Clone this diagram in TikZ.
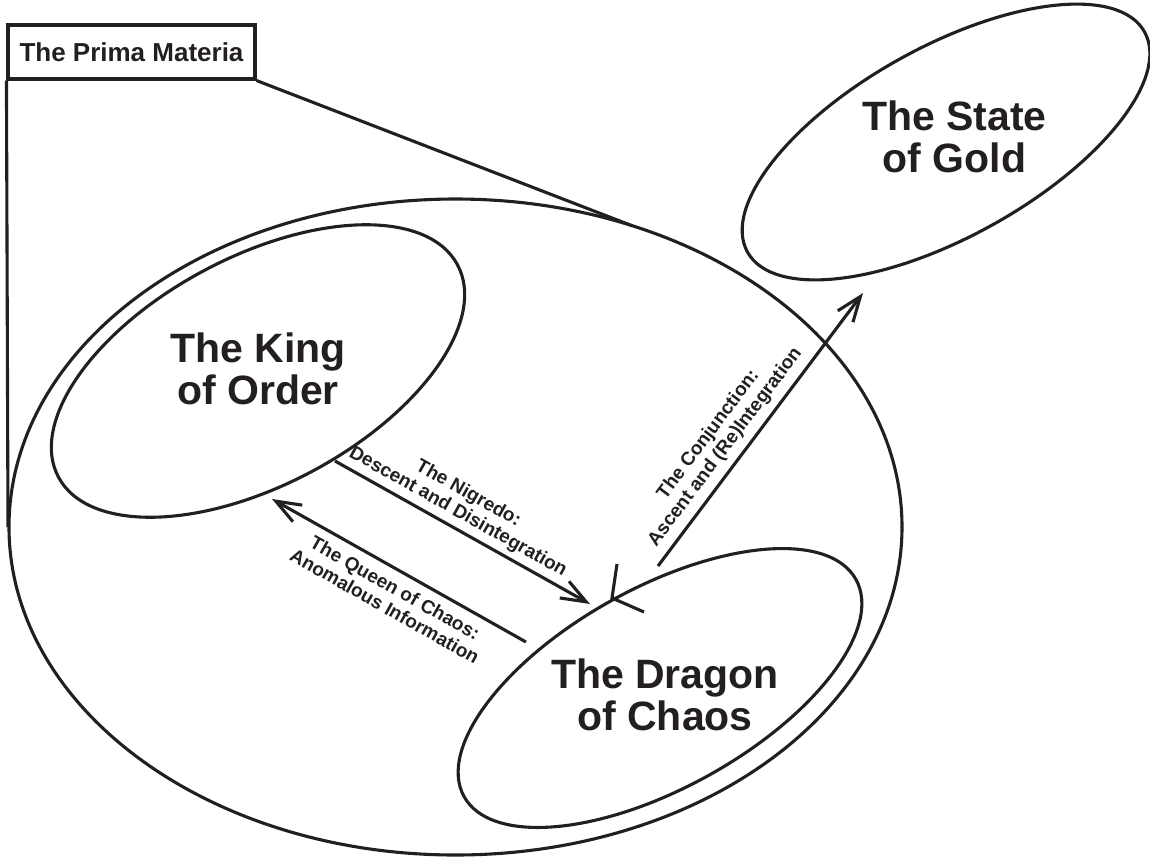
\documentclass[tikz,border=0pt]{standalone}
\usepackage{fontspec}
\setmainfont{Liberation Sans}
\usetikzlibrary{shapes.geometric,arrows.meta}
\definecolor{ink}{RGB}{35,31,32}
\begin{document}
\begin{tikzpicture}[x=1pt,y=-1pt,
  oval/.style={draw=ink, ellipse, inner sep=0pt, line width=3.1pt},
  bigtext/.style={font=\fontsize{41}{42}\selectfont\bfseries, align=center, text=ink, inner sep=0pt},
  arrowtext/.style={font=\fontsize{19}{21}\selectfont\bfseries, align=center, text=ink, inner sep=0pt},
  flow/.style={draw=ink, line width=3.1pt, -{Straight Barb[length=25pt,width=19pt]}},
  edge/.style={draw=ink, line width=3.1pt}]
\useasboundingbox (0,0) rectangle (1150,860);
% ellipses
\node[oval, minimum width=893pt, minimum height=656pt] (prime) at (455.5,527) {};
\node[oval, minimum width=452pt, minimum height=228pt, rotate=28] (king) at (258,371) {};
\node[oval, minimum width=448pt, minimum height=200pt, rotate=29] (dragon) at (660,688) {};
\node[oval, minimum width=454pt, minimum height=190pt, rotate=29] (gold) at (946,142) {};
% texts
\node[bigtext] (kingtext) at (258,368.5) {The King\\of Order};
\node[bigtext] (dragontext) at (665,695) {The Dragon\\of Chaos};
\node[bigtext] (goldtext) at (954.5,137) {The State\\of Gold};
% prima materia box
\node[draw=ink, line width=3.1pt, minimum width=247pt, minimum height=54pt, inner sep=0pt,
  text=ink, font=\fontsize{26}{30}\selectfont\bfseries] (prima) at (131.5,52) {The Prima Materia};
\coordinate (pl) at (8,527);
\coordinate (pr) at (632,225.7);
\draw[edge] (prima.south west) -- (pl);
\draw[edge] (prima.south east) -- (pr);
% arrows
\coordinate (nigS) at (335,461);
\coordinate (nigE) at (590,604);
\coordinate (queS) at (526,642);
\coordinate (queE) at (272,499);
\coordinate (conS) at (658,566);
\coordinate (conE) at (863,293);
\draw[flow] (nigS) -- (nigE);
\draw[flow] (queS) -- (queE);
\draw[flow] (conS) -- (conE);
\node[arrowtext, rotate=-29.3] (nigtext) at (463,503) {The Nigredo:\\Descent and Disintegration};
\node[arrowtext, rotate=-29.4] (quetext) at (390,597) {The Queen of Chaos:\\Anomalous Information};
\node[arrowtext, rotate=53.1] (context) at (717,441) {The Conjunction:\\Ascent and (Re)Integration};
% mark on the dragon
\coordinate (tA) at (617,564);
\coordinate (tV) at (612,598);
\coordinate (tB) at (644,612);
\draw[edge] (tA) -- (tV) -- (tB);
\end{tikzpicture}
\end{document}
